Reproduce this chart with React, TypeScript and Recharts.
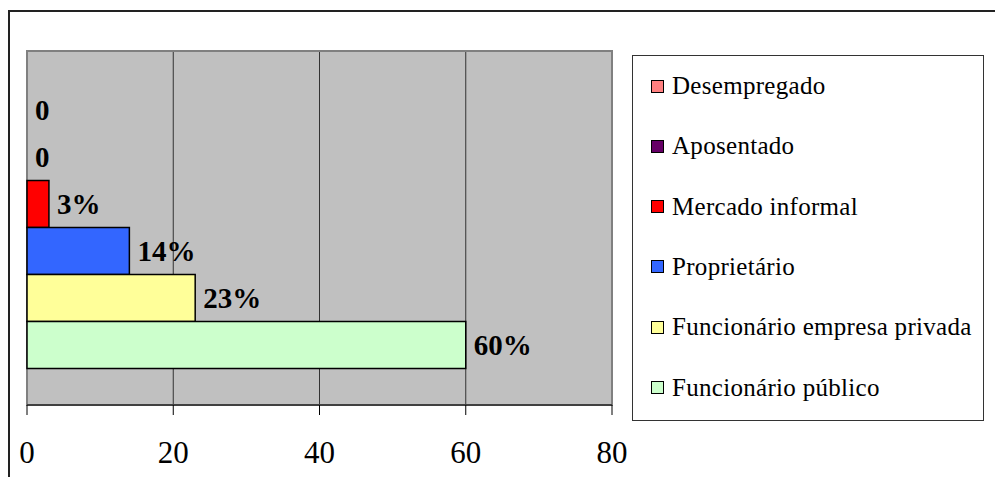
import { Bar, BarChart, CartesianGrid, LabelList, Legend, Rectangle, ReferenceArea, XAxis, YAxis } from 'recharts'

const seriesNames = [
  'Desempregado',
  'Aposentado',
  'Mercado informal',
  'Proprietário',
  'Funcionário empresa privada',
  'Funcionário público',
]
const seriesValues = [0, 0, 3, 14, 23, 60]
const seriesColors = ['#ff8080', '#660066', '#ff0000', '#3366ff', '#ffff99', '#ccffcc']
const xTicks = [0, 20, 40, 60, 80]

const FONT = '"Liberation Serif", "Times New Roman", serif'

const row: Record<string, string | number> = { name: 'ocupacao' }
seriesValues.forEach((v, i) => {
  row[`v${i}`] = v
})
const data = [row]

// legend keeps the series order (recharts sorts the payload by name otherwise)
function BoxLegend() {
  return (
    <div
      style={{
        position: 'relative',
        width: 352,
        height: 366,
        boxSizing: 'border-box',
        border: '1.5px solid #333',
        background: '#fff',
        fontFamily: FONT,
        fontSize: 25,
        letterSpacing: 0.3,
        color: '#000',
      }}
    >
      {seriesNames.map((name, i) => (
        <div
          key={name}
          style={{
            position: 'absolute',
            left: 18,
            top: i * 60.3,
            height: 60,
            display: 'flex',
            alignItems: 'center',
            whiteSpace: 'nowrap',
          }}
        >
          <span
            style={{
              display: 'inline-block',
              width: 13,
              height: 13,
              boxSizing: 'border-box',
              border: '1.5px solid #000',
              background: seriesColors[i],
              marginRight: 8,
            }}
          />
          {name}
        </div>
      ))}
    </div>
  )
}

interface LabelProps {
  x?: number
  y?: number
  width?: number
  height?: number
  value?: number
}

function ValueLabel({ x = 0, y = 0, width = 0, height = 0, value }: LabelProps) {
  const w = width < 0.5 ? 0 : width
  return (
    <text
      x={x + w + 8}
      y={y + height / 2}
      dominantBaseline="central"
      fill="#000"
      fontSize={29}
      fontWeight={700}
      fontFamily={FONT}
    >
      {value === 0 ? '0' : `${value}%`}
    </text>
  )
}

// zero bars are kept (tiny minPointSize) so they get their "0" label, but no rect is drawn
function BarShape(props: any) {
  if (!props.width || props.width < 0.5) return <g />
  return <Rectangle {...props} />
}

export default function App() {
  return (
    <div style={{ position: 'fixed', left: 0, top: 0, width: 995, height: 477, background: '#fff', overflow: 'hidden' }}>
      <div
        style={{
          position: 'absolute',
          left: 8,
          top: 10,
          width: 1100,
          height: 600,
          borderLeft: '2px solid #222',
          borderTop: '2px solid #222',
        }}
      />
      <div style={{ position: 'absolute', left: 0, top: 0 }}>
        <BarChart
          width={995}
          height={477}
          data={data}
          layout="vertical"
          margin={{ top: 51, right: 383, bottom: 0, left: 27 }}
          barGap={0}
          barCategoryGap="10%"
        >
          <CartesianGrid horizontal={false} verticalValues={[20, 40, 60]} stroke="#333" strokeWidth={1} fill="#c0c0c0" />
          <ReferenceArea x1={0} x2={80} fill="none" stroke="#808080" strokeWidth={2} />
          <XAxis
            type="number"
            domain={[0, 80]}
            ticks={xTicks}
            interval={0}
            height={72}
            tickSize={10}
            tickMargin={26}
            stroke="#000"
            tick={{ fill: '#000', fontSize: 31, fontFamily: FONT }}
          />
          <YAxis type="category" dataKey="name" hide />
          <Legend
            layout="vertical"
            align="center"
            verticalAlign="middle"
            wrapperStyle={{ left: 632, top: 55, width: 352, height: 366 }}
            content={() => <BoxLegend />}
          />
          {seriesNames.map((name, i) => (
            <Bar
              key={name}
              dataKey={`v${i}`}
              name={name}
              fill={seriesColors[i]}
              stroke="#000"
              strokeWidth={1.5}
              minPointSize={0.01}
              shape={BarShape}
              legendType="square"
              isAnimationActive={false}
            >
              <LabelList dataKey={`v${i}`} content={(p) => <ValueLabel {...(p as LabelProps)} />} />
            </Bar>
          ))}
        </BarChart>
      </div>
    </div>
  )
}
